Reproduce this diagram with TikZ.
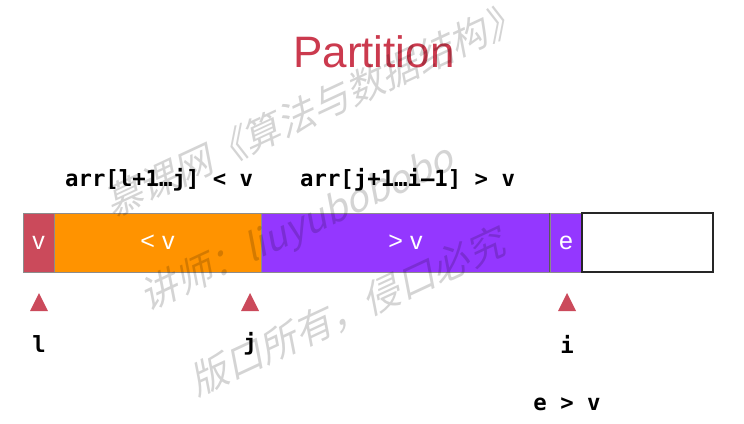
\documentclass[tikz,border=0pt]{standalone}
\usepackage{fontspec}
\setmainfont{Liberation Sans}
\newfontfamily\mono{DejaVu Sans Mono}
\newfontfamily\cjk{Noto Sans CJK SC}
\definecolor{cred}{HTML}{CB4A5B}
\definecolor{corange}{HTML}{FF9300}
\definecolor{cpurple}{HTML}{9437FF}
\definecolor{ctitle}{HTML}{CB3A4E}
\begin{document}
\begin{tikzpicture}[x=1pt,y=-1pt,
  cell/.style={rectangle, minimum height=59pt, inner sep=0pt, text=white,
    font=\fontsize{25}{25}\selectfont, line width=0.6pt, draw=black!45},
  lab/.style={font=\mono\bfseries\fontsize{22.3}{23}\selectfont, inner sep=0pt},
  tri/.style={fill=cred},
  wm/.style={font=\cjk\fontsize{38}{38}\selectfont, text=black, opacity=0.17,
    rotate=25, xslant=0.25, transform shape, inner sep=0pt}]
\useasboundingbox (0,0) rectangle (744,423);
% title
\node[font=\fontsize{44}{44}\selectfont, text=ctitle, inner sep=0pt] (title) at (374,52) {Partition};
% range labels
\node[lab, anchor=west] (r1) at (65,180) {arr[l+1…j] < v};
\node[lab, anchor=west] (r2) at (300,180) {arr[j+1…i–1] > v};
% cells
\node[cell, fill=cred, minimum width=31pt] (cv) at (38.5,242.5) {v};
\node[cell, fill=corange, minimum width=207pt] (cl) at (157.5,242.5) {< v};
\node[cell, fill=cpurple, minimum width=289pt] (cg) at (405.5,242.5) {> v};
\node[cell, fill=cpurple, minimum width=32pt] (ce) at (566,242.5) {e};
\node[cell, fill=white, draw=black!85, line width=1.5pt, minimum width=131pt] (cw) at (647.5,242.5) {};
\draw[black!65, line width=0.8pt] (ce.north west) -- (ce.south west);
% markers
\coordinate (tl) at (39,302);
\coordinate (tj) at (250,302);
\coordinate (ti) at (567,302);
\fill[tri] (tl) ++(0,-9) -- ++(9,18) -- ++(-18,0) -- cycle;
\fill[tri] (tj) ++(0,-9) -- ++(9,18) -- ++(-18,0) -- cycle;
\fill[tri] (ti) ++(0,-9) -- ++(9,18) -- ++(-18,0) -- cycle;
\node[lab] (ll) at (39,344) {l};
\node[lab] (lj) at (250,344) {j};
\node[lab] (li) at (567,344) {i};
\node[lab] (cond) at (567,404) {e > v};
% watermark
\node[wm] (w1) at (316,108) {慕课网《算法与数据结构》};
\node[wm] (w2) at (300,228) {讲师：liuyubobobo};
\node[wm] (w3) at (350,310) {版口所有，侵口必究};
\end{tikzpicture}
\end{document}
